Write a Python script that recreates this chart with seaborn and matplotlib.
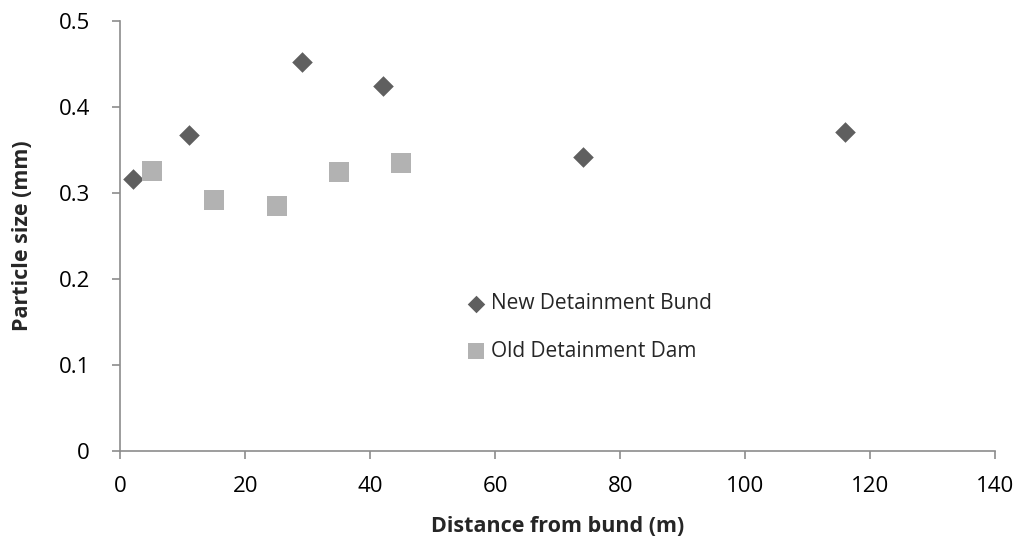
import matplotlib
matplotlib.use("Agg")
import matplotlib.pyplot as plt
import seaborn as sns
import pandas as pd

# Median particle size against distance from each structure
new_bund_dist = [2, 11, 29, 42, 74, 116]
new_bund_size = [0.316, 0.367, 0.452, 0.424, 0.341, 0.370]
old_dam_dist = [5, 15, 25, 35, 45]
old_dam_size = [0.325, 0.292, 0.284, 0.324, 0.335]

series_names = ["New Detainment Bund", "Old Detainment Dam"]
x_ticks = [0, 20, 40, 60, 80, 100, 120, 140]
y_ticks = [0, 0.1, 0.2, 0.3, 0.4, 0.5]
y_tick_labels = ["0", "0.1", "0.2", "0.3", "0.4", "0.5"]

sns.set_theme(style="white")
plt.rcParams["font.family"] = ["Open Sans", "DejaVu Sans"]

df = pd.DataFrame({
    "dist": new_bund_dist + old_dam_dist,
    "size": new_bund_size + old_dam_size,
    "series": [series_names[0]] * len(new_bund_dist) + [series_names[1]] * len(old_dam_dist),
})

fig = plt.figure(figsize=(10.2, 5.4), dpi=100)
ax = fig.add_axes([0.118, 0.1654, 0.8575, 0.7963])

palette = {series_names[0]: "#5f5f5f", series_names[1]: "#b2b2b2"}

sns.scatterplot(data=df[df.series == series_names[0]], x="dist", y="size",
                color=palette[series_names[0]], marker="D", s=110,
                linewidth=0, ax=ax, label=series_names[0], zorder=3)
sns.scatterplot(data=df[df.series == series_names[1]], x="dist", y="size",
                color=palette[series_names[1]], marker="s", s=200,
                linewidth=0, ax=ax, label=series_names[1], zorder=3)

ax.set_xlim(0, 140)
ax.set_ylim(0, 0.5)
ax.set_xticks(x_ticks)
ax.set_yticks(y_ticks)
ax.set_yticklabels(y_tick_labels)

axis_grey = "#8c8c8c"
for side in ["top", "right"]:
    ax.spines[side].set_visible(False)
for side in ["left", "bottom"]:
    ax.spines[side].set_color(axis_grey)
    ax.spines[side].set_linewidth(1.2)
ax.tick_params(axis="both", which="major", direction="out", length=6, width=1.2,
               color=axis_grey, labelsize=16, labelcolor="black",
               bottom=True, left=True)
ax.tick_params(axis="y", pad=16)
ax.tick_params(axis="x", pad=12)

ax.set_xlabel("Distance from bund (m)", fontsize=15.5, fontweight="bold", labelpad=14)
ax.set_ylabel("Particle size (mm)", fontsize=15.5, fontweight="bold", labelpad=18)

leg = ax.legend(loc="upper left", bbox_to_anchor=(0.3854, 0.386), frameon=False,
                fontsize=15, handlelength=1.0, handletextpad=0.22, labelspacing=1.28,
                markerscale=0.85, borderaxespad=0)

fig.savefig("out.png", dpi=100)
